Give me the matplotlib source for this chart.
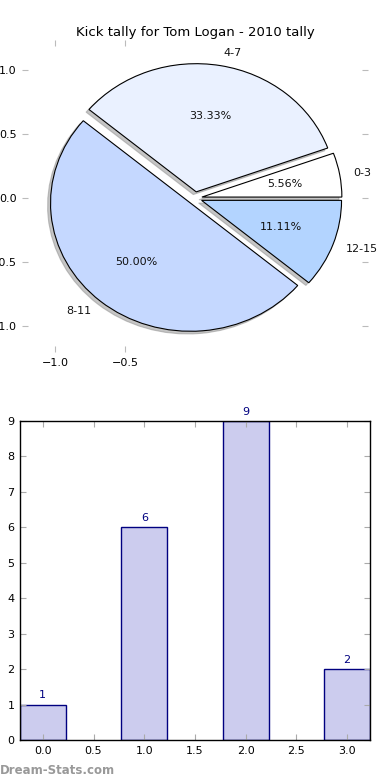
import matplotlib
matplotlib.use("Agg")
import matplotlib.pyplot as plt

title = "Kick tally for Tom Logan - 2010 tally"
labels = ["0-3", "4-7", "8-11", "12-15"]
counts = [1, 6, 9, 2]
pie_colors = ["#ffffff", "#eaf1ff", "#c5d8ff", "#b3d4ff"]
explode = [0.05, 0.05, 0.05, 0.05]
bar_pos = [0, 1, 2, 3]
pie_xticks = [-1.0, -0.5]
pie_yticks = [1.0, 0.5, 0.0, -0.5, -1.0]
bar_xticks = [0.0, 0.5, 1.0, 1.5, 2.0, 2.5, 3.0]
bar_yticks = list(range(10))

fig = plt.figure(figsize=(3.9, 7.8), dpi=100)
W, H = 390.0, 780.0

# Pie axes
ax1 = fig.add_axes([22 / W, 1 - 352 / H, (368 - 22) / W, (352 - 40) / H])
wedges, texts, autotexts = ax1.pie(
    counts, labels=labels, colors=pie_colors, explode=explode,
    autopct="%.2f%%",
    shadow={"ox": -0.015, "oy": -0.015, "facecolor": "#8c8c8c",
            "edgecolor": "#8c8c8c"},
    startangle=0,
    wedgeprops=dict(edgecolor="black", linewidth=0.8),
    textprops=dict(fontsize=8, color="#111111"), labeldistance=1.1)
ax1.set_aspect("auto")
ax1.set_xlim(-1.236, 1.236)
ax1.set_ylim(-1.2, 1.234)
ax1.set_frame_on(False)
ax1.set_xticks(pie_xticks)
ax1.set_xticklabels(["\u22121.0", "\u22120.5"])
ax1.set_yticks(pie_yticks)
ax1.set_yticklabels(["1.0", "0.5", "0.0", "\u22120.5", "\u22121.0"])
ax1.tick_params(direction="in", length=4, color="#bbbbbb", labelsize=8,
                top=True, right=True, pad=4)
ax1.set_title(title, fontsize=9.5, pad=3)

# Bar axes
ax2 = fig.add_axes([20 / W, 1 - 740 / H, (370 - 20) / W, (740 - 421) / H])
bars = ax2.bar(bar_pos, counts, width=0.45, color="#ccccee",
               edgecolor="#000080", linewidth=1.0, zorder=1)
for x, v in zip(bar_pos, counts):
    ax2.text(x, v + 0.12, str(v), ha="center", va="bottom",
             fontsize=8, color="#000080")
ax2.set_xlim(-0.225, 3.225)
ax2.set_ylim(0, 9)
ax2.set_xticks(bar_xticks)
ax2.set_xticklabels([f"{t:.1f}" for t in bar_xticks])
ax2.set_yticks(bar_yticks)
ax2.tick_params(direction="in", length=4, color="#aaaaaa", labelsize=8,
                top=True, right=True, pad=4)
ax2.set_axisbelow(False)
for s in ax2.spines.values():
    s.set_linewidth(1.0)
    s.set_zorder(6)

fig.text(0.0, 1 - 770 / H, "Dream-Stats.com", fontsize=8.5, color="#999999",
         fontweight="bold", ha="left", va="center")

fig.savefig("out.png", dpi=100)
